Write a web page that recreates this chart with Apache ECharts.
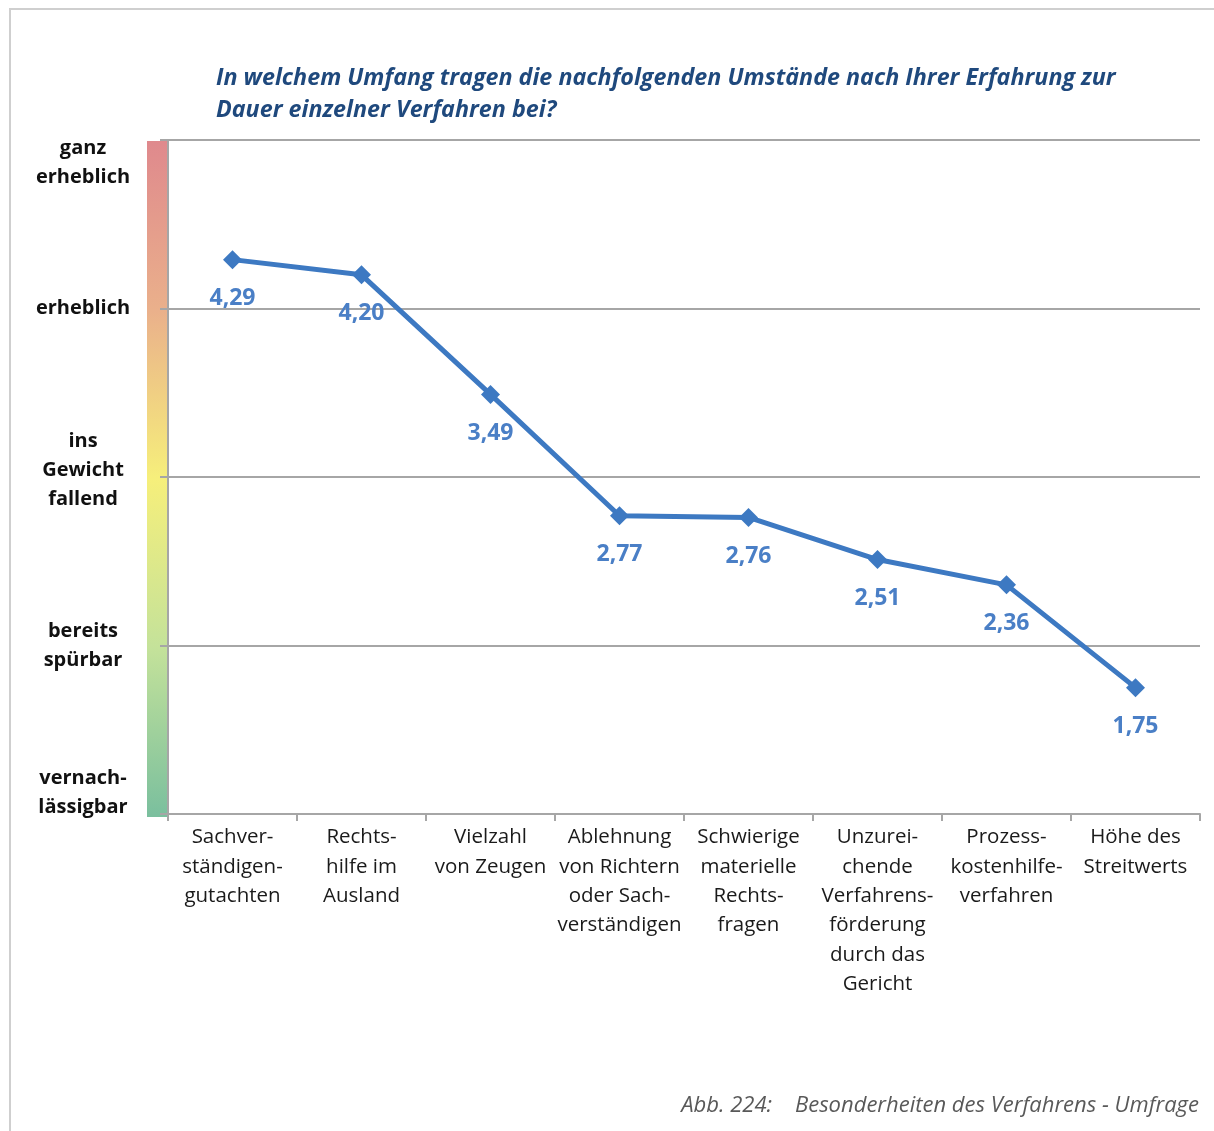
<!DOCTYPE html>
<html>
<head>
<meta charset="utf-8">
<script src="https://cdn.jsdelivr.net/npm/echarts@6/dist/echarts.min.js"></script>
<style>
html,body{margin:0;padding:0;background:#fff;}
#chart{width:1214px;height:1131px;}
</style>
</head>
<body>
<div id="chart"></div>
<script>
const categories = [
  'Sachver-\nständigen-\ngutachten',
  'Rechts-\nhilfe im\nAusland',
  'Vielzahl\nvon Zeugen',
  'Ablehnung\nvon Richtern\noder Sach-\nverständigen',
  'Schwierige\nmaterielle\nRechts-\nfragen',
  'Unzurei-\nchende\nVerfahrens-\nförderung\ndurch das\nGericht',
  'Prozess-\nkostenhilfe-\nverfahren',
  'Höhe des\nStreitwerts'
];
const values = [4.29, 4.20, 3.49, 2.77, 2.76, 2.51, 2.36, 1.75];
const yLevelLabels = ['vernach-\nlässigbar', 'bereits\nspürbar', 'ins\nGewicht\nfallend', 'erheblich', 'ganz\nerheblich'];
const titleText = 'In welchem Umfang tragen die nachfolgenden Umstände nach Ihrer Erfahrung zur\nDauer einzelner Verfahren bei?';
const captionText = 'Abb. 224:    Besonderheiten des Verfahrens - Umfrage';

const chart = echarts.init(document.getElementById('chart'));
const FONT = '"Open Sans", "Noto Sans", sans-serif';

function yLabel(v) {
  const idx = Math.round(v) - 1;
  const lines = (yLevelLabels[idx] || '').split('\n').map(s => '{t|' + s + '}');
  if (idx === 4) return '{g5| }\n' + lines.join('\n');
  if (idx === 0) return lines.join('\n') + '\n{g1| }';
  if (idx === 2) return lines.join('\n') + '\n{g3| }';
  return lines.join('\n');
}

chart.setOption({
  animation: false,
  backgroundColor: '#ffffff',
  title: [{
    text: titleText,
    left: 211, top: 57,
    textStyle: {
      fontFamily: FONT, fontSize: 23.3, fontWeight: 'bold', fontStyle: 'italic',
      color: '#1F497D', lineHeight: 32
    }
  }, {
    text: captionText,
    right: 10, top: 1090,
    textStyle: {
      fontFamily: FONT, fontSize: 22, fontWeight: 'normal', fontStyle: 'italic',
      color: '#595959'
    }
  }],
  graphic: [{
    type: 'rect',
    shape: {x: 10, y: 9, width: 1240, height: 1160},
    style: {fill: 'none', stroke: '#CFCFCF', lineWidth: 2},
    z: -10, silent: true
  }, {
    type: 'rect',
    shape: {x: 147, y: 141, width: 20, height: 676},
    style: {
      fill: new echarts.graphic.LinearGradient(0, 0, 0, 1, [
        {offset: 0, color: '#DF898D'},
        {offset: 0.25, color: '#EAB08B'},
        {offset: 0.5, color: '#F6EF7B'},
        {offset: 0.75, color: '#C4E29A'},
        {offset: 1, color: '#7ABF9E'}
      ])
    },
    z: -5, silent: true
  }],
  grid: {left: 168, right: 14, top: 140, bottom: 317},
  xAxis: {
    type: 'category',
    data: categories,
    boundaryGap: true,
    axisLine: {show: true, lineStyle: {color: '#A6A6A6', width: 2}},
    axisTick: {show: true, length: 7, alignWithLabel: false, lineStyle: {color: '#A6A6A6', width: 2}},
    axisLabel: {
      interval: 0, margin: 9,
      fontFamily: FONT, fontSize: 20.5, color: '#1a1a1a', lineHeight: 29.3
    },
    splitLine: {show: false}
  },
  yAxis: {
    type: 'value',
    min: 1, max: 5, interval: 1,
    axisLine: {show: true, lineStyle: {color: '#A6A6A6', width: 2}},
    axisTick: {show: true, length: 8, lineStyle: {color: '#A6A6A6', width: 2}},
    splitLine: {show: true, lineStyle: {color: '#A6A6A6', width: 2}},
    axisLabel: {
      margin: 85, align: 'center', verticalAlign: 'middle',
      formatter: yLabel,
      rich: {
        t: {fontFamily: FONT, fontSize: 20, fontWeight: 'bold', color: '#111', lineHeight: 29, align: 'center'},
        g5: {fontSize: 10, lineHeight: 45},
        g1: {fontSize: 10, lineHeight: 43},
        g3: {fontSize: 10, lineHeight: 14}
      }
    }
  },
  series: [{
    type: 'line',
    data: values,
    symbol: 'diamond',
    symbolSize: 19,
    itemStyle: {color: '#3D79C2'},
    lineStyle: {color: '#3D79C2', width: 5},
    label: {
      show: true, position: 'bottom', distance: 18,
      fontFamily: FONT, fontSize: 23, fontWeight: 'bold', color: '#4A7FC6',
      formatter: p => p.value.toFixed(2).replace('.', ',')
    }
  }]
});
</script>
</body>
</html>
